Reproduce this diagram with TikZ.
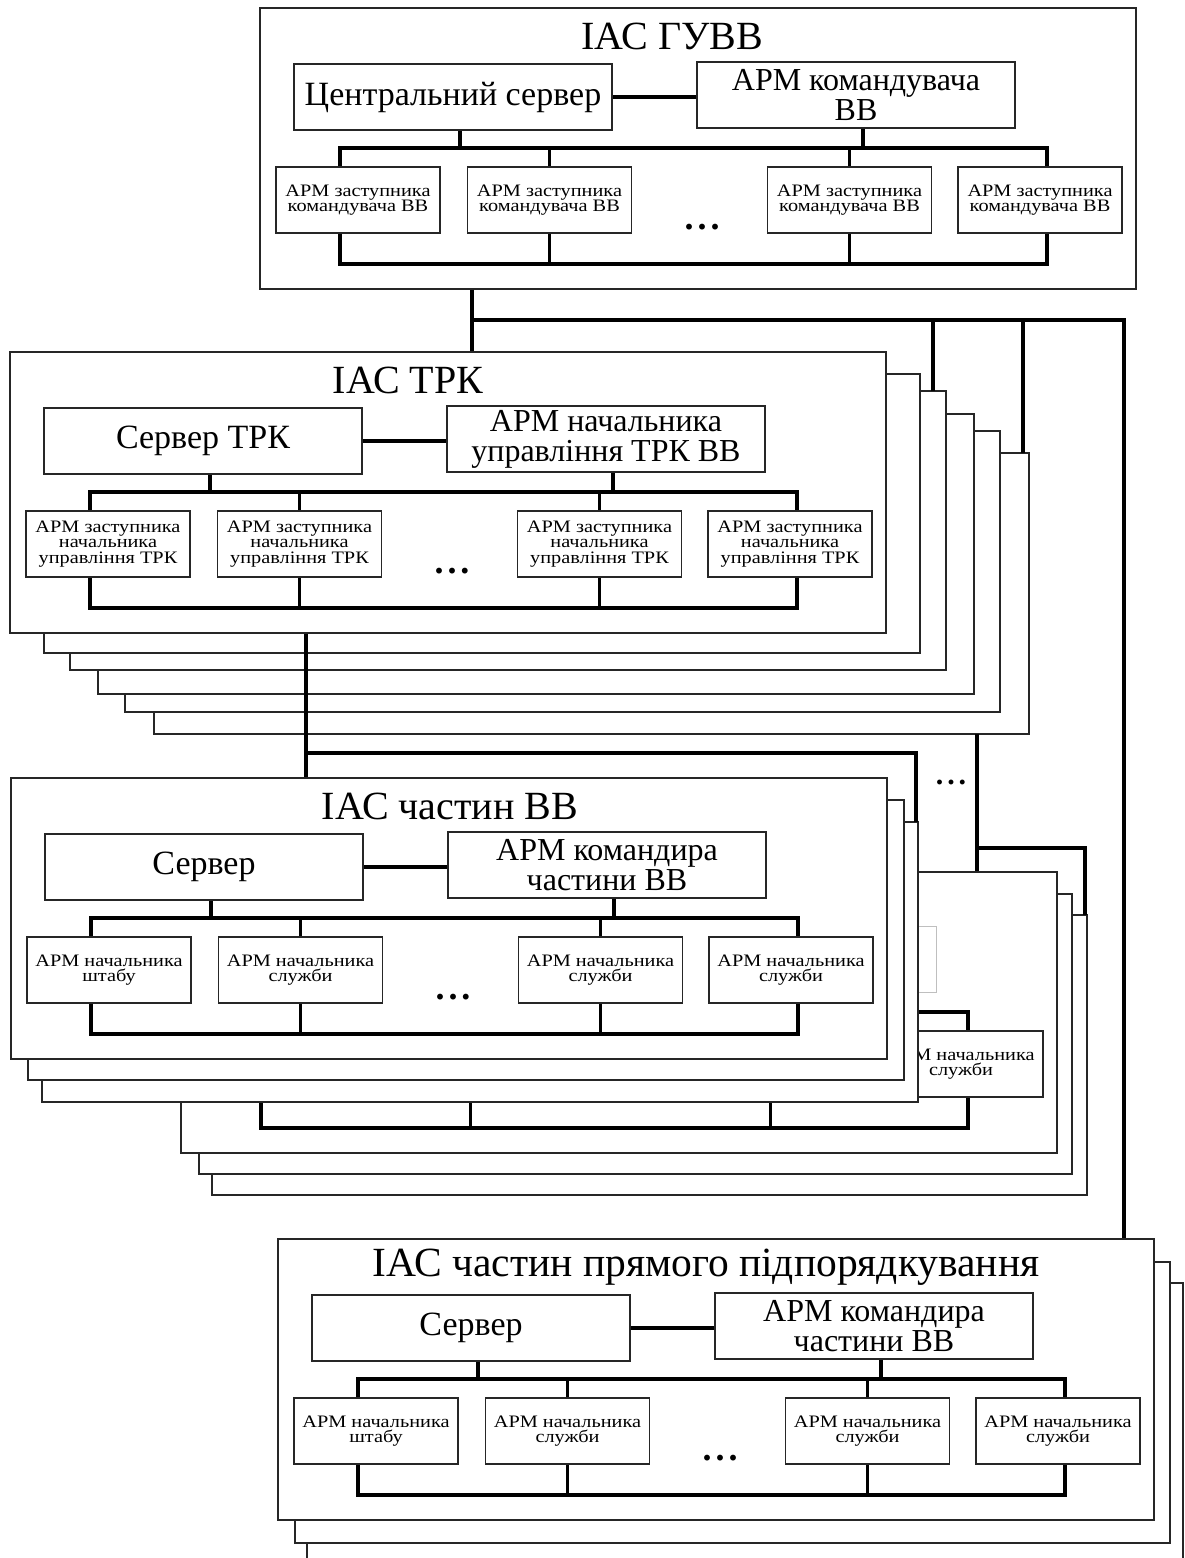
\documentclass[tikz,border=0pt]{standalone}
\usepackage{fontspec}
\setmainfont{Liberation Serif}
\newfontfamily\widefont[FakeStretch=1.16]{Liberation Serif}
\tikzset{
  frame/.style={draw=black!85, line width=1.4pt, fill=white},
  blockframe/.style={frame, minimum width=876pt, minimum height=281pt, inner sep=0pt},
  titletext/.style={font=\fontsize{40}{44}\selectfont, inner sep=0pt},
  bigbox/.style={draw=black!85, line width=1.6pt, fill=white, minimum width=318pt, minimum height=66pt, inner sep=0.5pt, align=center, font=\fontsize{34}{28}\selectfont},
  armbox/.style={bigbox, font=\fontsize{32}{30}\selectfont},
  smallbox/.style={draw=black!85, line width=1.6pt, fill=white, minimum width=164pt, minimum height=66pt, inner sep=1pt, align=center, font=\widefont\fontsize{17.5}{15.5}\selectfont},
  dots/.style={font=\bfseries\fontsize{36}{36}\selectfont, inner sep=0pt},
  conn/.style={line width=3.4pt, line join=miter}
}
\def\midtext{}
\def\dottext{.\hspace{4pt}.\hspace{4pt}.}
\newcommand\iasblock[9]{%
\begin{scope}[shift={(#2,#3)}]
\node[blockframe] (#1-f) at (438,140.5) {};
\node[titletext] (#1-t) at (#4,28) {#5};
\node[bigbox] (#1-s) at (193,89) {#6};
\node[armbox] (#1-a) at (596,87) {#7};
\node[smallbox] (#1-b1) at (98,192) {#8};
\node[smallbox] (#1-b2) at (289.5,192) {\midtext};
\node[smallbox] (#1-b3) at (589.5,192) {\midtext};
\node[smallbox] (#1-b4) at (780,192) {#9};
\node[dots] (#1-d) at (442,219) {\dottext};
\coordinate (#1-tb) at (80,140);
\coordinate (#1-te) at (787,140);
\coordinate (#1-bb) at (80,256);
\coordinate (#1-be) at (787,256);
\draw[conn] (#1-s.east) -- (#1-s.east -| #1-a.west);
\draw[conn] ([xshift=7pt]#1-s.south) -- ([xshift=7pt]#1-s.south |- #1-tb);
\draw[conn] ([xshift=7pt]#1-a.south) -- ([xshift=7pt]#1-a.south |- #1-tb);
\draw[conn] (#1-tb |- #1-b1.north) -- (#1-tb) -- (#1-te) -- (#1-te |- #1-b4.north);
\draw[conn] (#1-b2.north) -- (#1-b2.north |- #1-tb);
\draw[conn] (#1-b3.north) -- (#1-b3.north |- #1-tb);
\draw[conn] (#1-bb |- #1-b1.south) -- (#1-bb) -- (#1-be) -- (#1-be |- #1-b4.south);
\draw[conn] (#1-b2.south) -- (#1-b2.south |- #1-bb);
\draw[conn] (#1-b3.south) -- (#1-b3.south |- #1-bb);
\end{scope}}
\begin{document}
\begin{tikzpicture}[x=1pt,y=-1pt]
\path[use as bounding box] (0,0) rectangle (1184,1558);
\clip (0,0) rectangle (1184,1558);
\fill[white] (0,0) rectangle (1184,1558);
% top block
\def\midtext{АРМ заступника\\командувача ВВ}
\iasblock{G}{260}{8}{412}{ІАС ГУВВ}{Центральний сервер}{АРМ командувача\\ВВ}{АРМ заступника\\командувача ВВ}{АРМ заступника\\командувача ВВ}
% TRK stack
\draw[frame] (154,453) coordinate (tr5-nw) rectangle (1029,734) coordinate (tr5-se);
\draw[frame] (125,431) coordinate (tr4-nw) rectangle (1000,712) coordinate (tr4-se);
\draw[frame] (98,414) coordinate (tr3-nw) rectangle (974,694) coordinate (tr3-se);
\draw[frame] (70,391) coordinate (tr2-nw) rectangle (946,670) coordinate (tr2-se);
\draw[frame] (44,374) coordinate (tr1-nw) rectangle (920,653) coordinate (tr1-se);
\def\midtext{АРМ заступника\\начальника\\управління ТРК}
\iasblock{T}{10}{352}{398}{ІАС ТРК}{Сервер ТРК}{АРМ начальника\\управління ТРК ВВ}{АРМ заступника\\начальника\\управління ТРК}{АРМ заступника\\начальника\\управління ТРК}
% dots between groups
\node[dots, font=\bfseries\fontsize{30}{30}\selectfont] (gd) at (951,782) {.\hspace{4pt}.\hspace{4pt}.};
% right stack of unit systems (mostly hidden)
\draw[frame] (212,915) coordinate (rC-nw) rectangle (1087,1195) coordinate (rC-se);
\draw[frame] (199,894) coordinate (rB-nw) rectangle (1072,1174) coordinate (rB-se);
\begin{scope}[armbox/.style={bigbox, draw=black!25, line width=0.8pt}]
\def\midtext{}
\def\dottext{}
\iasblock{W}{181}{872}{439}{}{}{}{}{АРМ начальника\\служби}
\end{scope}
% left stack of unit systems
\draw[frame] (42,822) coordinate (vr3-nw) rectangle (918,1102) coordinate (vr3-se);
\draw[frame] (28,800) coordinate (vr2-nw) rectangle (904,1080) coordinate (vr2-se);
\def\midtext{АРМ начальника\\служби}
\iasblock{V}{11}{778}{439}{ІАС частин ВВ}{Сервер}{АРМ командира\\частини ВВ}{АРМ начальника\\штабу}{АРМ начальника\\служби}
% bottom stack
\draw[frame] (307,1283) coordinate (pr3-nw) rectangle (1183,1564) coordinate (pr3-se);
\draw[frame] (295,1262) coordinate (pr2-nw) rectangle (1170,1543) coordinate (pr2-se);
\begin{scope}[titletext/.style={font=\fontsize{41.5}{44}\selectfont, inner sep=0pt}]
\iasblock{P}{278}{1239}{428}{ІАС частин прямого підпорядкування}{Сервер}{АРМ командира\\частини ВВ}{АРМ начальника\\штабу}{АРМ начальника\\служби}
\end{scope}
% connectors between systems
\coordinate (j1) at (472,320);
\coordinate (j2) at (1124,320);
\coordinate (j3) at (933,320);
\coordinate (j4) at (1023,320);
\coordinate (k1) at (306,753);
\coordinate (k2) at (916,753);
\coordinate (m1) at (977,848);
\coordinate (m2) at (1085,848);
\draw[conn] (G-f.south -| j1) -- (j1) -- (j2) -- (j2 |- P-f.north);
\draw[conn] (j1) -- (j1 |- T-f.north);
\draw[conn] (j3) -- (j3 |- tr2-nw);
\draw[conn] (j4) -- (j4 |- tr5-nw);
\draw[conn] (T-f.south -| k1) -- (k1) -- (k2) -- (k2 |- vr3-nw);
\draw[conn] (k1) -- (k1 |- V-f.north);
\draw[conn] (m1 |- tr5-se) -- (m1) -- (m1 |- W-f.north);
\draw[conn] (m1) -- (m2) -- (m2 |- rC-nw);
\end{tikzpicture}
\end{document}
